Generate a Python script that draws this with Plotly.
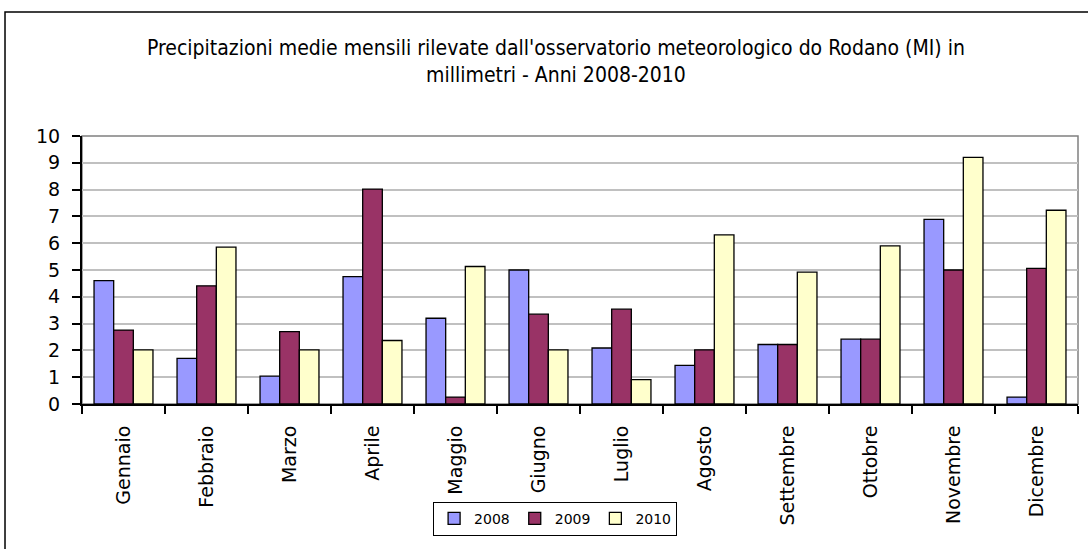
import plotly.graph_objects as go

months = ["Gennaio", "Febbraio", "Marzo", "Aprile", "Maggio", "Giugno",
          "Luglio", "Agosto", "Settembre", "Ottobre", "Novembre", "Dicembre"]
y2008 = [4.6, 1.7, 1.04, 4.75, 3.2, 5.0, 2.09, 1.44, 2.22, 2.42, 6.89, 0.26]
y2009 = [2.76, 4.41, 2.7, 8.02, 0.26, 3.35, 3.54, 2.02, 2.22, 2.42, 5.0, 5.06]
y2010 = [2.02, 5.85, 2.02, 2.37, 5.13, 2.02, 0.91, 6.31, 4.92, 5.9, 9.2, 7.23]
series = [("2008", y2008, "#9999FF"), ("2009", y2009, "#993366"), ("2010", y2010, "#FFFFCC")]
y_ticks = list(range(0, 11))

fig = go.Figure()
for name, vals, col in series:
    fig.add_trace(go.Bar(x=months, y=vals, name=name,
                         marker=dict(color=col, line=dict(color="black", width=1.3))))

font = "DejaVu Sans, Verdana, sans-serif"
fig.update_layout(
    width=1088, height=549,
    margin=dict(l=82, r=10, t=136, b=145),
    paper_bgcolor="white", plot_bgcolor="white",
    barmode="group", bargap=0.29, bargroupgap=0,
    font=dict(family=font, size=18, color="black"),
    title=dict(text="Precipitazioni medie mensili rilevate dall'osservatorio meteorologico do Rodano (MI) in<br>millimetri - Anni 2008-2010",
               x=0.511, xanchor="center", xref="container", y=0.9, yanchor="middle", yref="container",
               font=dict(family="DejaVu Sans Condensed, DejaVu Sans, sans-serif", size=21, color="black")),
    legend=dict(orientation="h", x=0.475, xanchor="center", y=-0.365, yanchor="top",
                bordercolor="black", borderwidth=1, font=dict(size=14),
                itemwidth=30, tracegroupgap=0),
    showlegend=True,
)
fig.update_xaxes(tickangle=-90, showline=True, linecolor="black", linewidth=2,
                 ticks="outside", tickson="boundaries", ticklen=8, tickcolor="black", tickwidth=1.5,
                 ticklabelstandoff=12, showgrid=False, tickfont=dict(size=19))
fig.update_yaxes(range=[0, 10], tickvals=y_ticks, showline=True, linecolor="black", linewidth=2,
                 ticks="outside", ticklen=8, tickcolor="black", tickwidth=1.5, showgrid=True,
                 gridcolor="#C0C0C0", gridwidth=1.5, zeroline=False, ticklabelstandoff=8,
                 tickfont=dict(size=19))
# plot area border (gray top/right)
fig.add_shape(type="rect", xref="paper", yref="paper", x0=0, x1=1, y0=0, y1=1,
              line=dict(color="#808080", width=1.5), layer="below")
# outer chart frame
fig.add_shape(type="rect", xref="paper", yref="paper", x0=-0.0773, x1=1.2, y0=-1.0, y1=1.4627,
              line=dict(color="black", width=1.5))
fig.write_html("out.html", config={"displayModeBar": False},
               post_script="document.body.style.margin='0px';")
